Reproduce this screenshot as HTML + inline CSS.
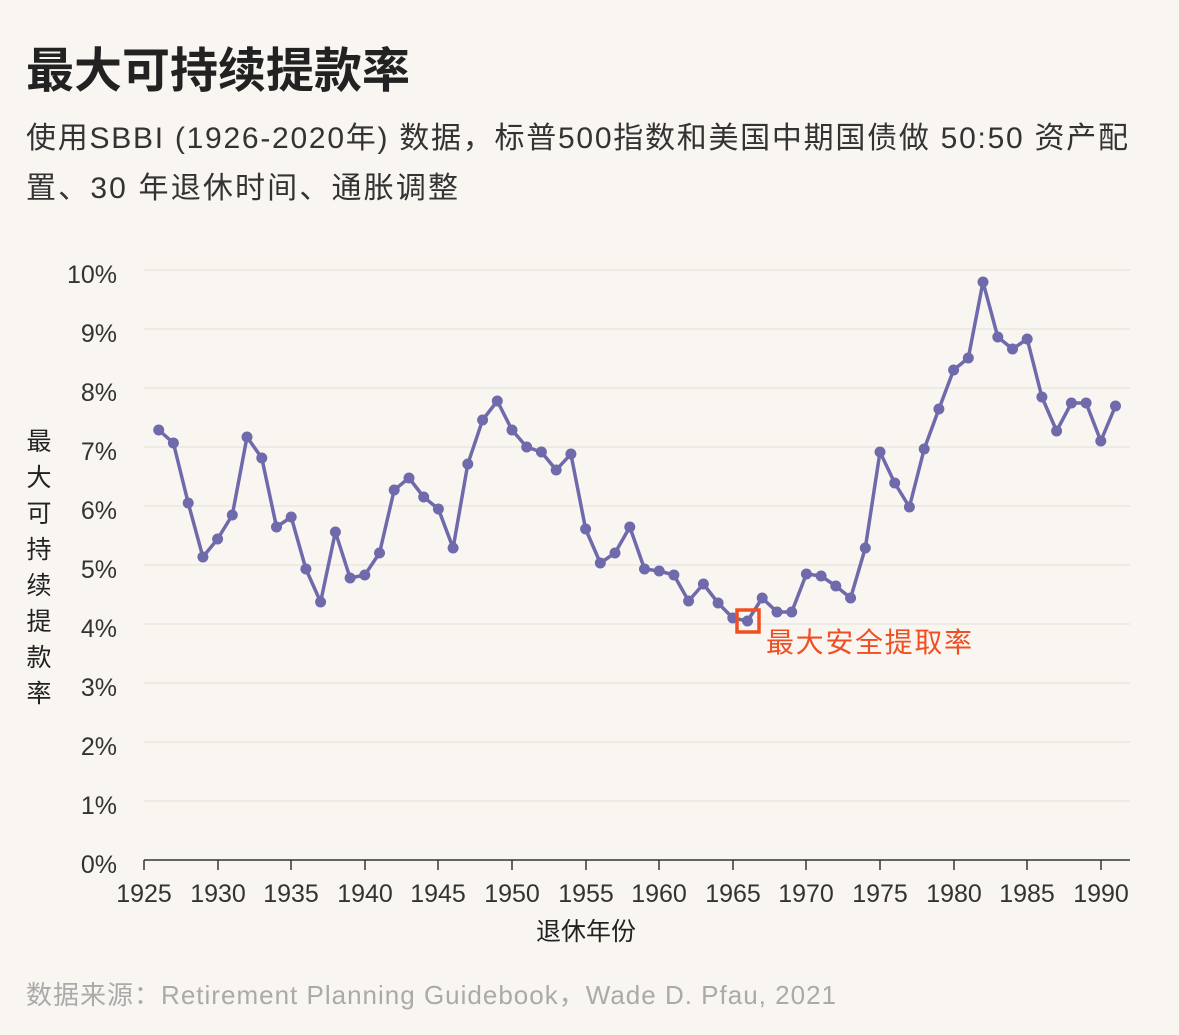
<!DOCTYPE html>
<html><head><meta charset="utf-8"><style>
body{margin:0;background:#f9f6f1;}
svg{display:block}
text{font-family:"Liberation Sans","Noto Sans CJK SC",sans-serif;}
</style></head><body>
<svg width="1179" height="1035" viewBox="0 0 1179 1035" xmlns="http://www.w3.org/2000/svg">
<defs><marker id="dot" markerWidth="12" markerHeight="12" refX="6" refY="6" markerUnits="userSpaceOnUse"><circle cx="6" cy="6" r="5.5" fill="#6e6aab"/></marker></defs>
<rect width="1179" height="1035" fill="#f9f6f1"/>
<text x="26" y="87" font-size="48" font-weight="bold" fill="#222">最大可持续提款率</text>
<text x="26" y="148" font-size="30" fill="#333" textLength="1102" lengthAdjust="spacing">使用SBBI (1926-2020年) 数据，标普500指数和美国中期国债做 50:50 资产配</text>
<text x="26" y="198" font-size="30" fill="#333" textLength="432" lengthAdjust="spacing">置、30 年退休时间、通胀调整</text>
<g stroke="#ebe7e1" stroke-width="1.5">
<line x1="144" x2="1130" y1="270" y2="270"/><line x1="144" x2="1130" y1="329" y2="329"/>
<line x1="144" x2="1130" y1="388" y2="388"/><line x1="144" x2="1130" y1="447" y2="447"/>
<line x1="144" x2="1130" y1="506" y2="506"/><line x1="144" x2="1130" y1="565" y2="565"/>
<line x1="144" x2="1130" y1="624" y2="624"/><line x1="144" x2="1130" y1="683" y2="683"/>
<line x1="144" x2="1130" y1="742" y2="742"/><line x1="144" x2="1130" y1="801" y2="801"/>
</g>
<line x1="144" x2="1130" y1="860" y2="860" stroke="#333" stroke-width="1.5"/>
<g font-size="25" fill="#333" text-anchor="end">
<text x="117" y="283">10%</text><text x="117" y="342">9%</text><text x="117" y="401">8%</text>
<text x="117" y="460">7%</text><text x="117" y="519">6%</text><text x="117" y="578">5%</text>
<text x="117" y="637">4%</text><text x="117" y="696">3%</text><text x="117" y="755">2%</text>
<text x="117" y="814">1%</text><text x="117" y="873">0%</text>
</g>
<g stroke="#333" stroke-width="1.5">
<line x1="144" x2="144" y1="860" y2="870"/><line x1="218" x2="218" y1="860" y2="870"/>
<line x1="291" x2="291" y1="860" y2="870"/><line x1="365" x2="365" y1="860" y2="870"/>
<line x1="438" x2="438" y1="860" y2="870"/><line x1="512" x2="512" y1="860" y2="870"/>
<line x1="586" x2="586" y1="860" y2="870"/><line x1="659" x2="659" y1="860" y2="870"/>
<line x1="733" x2="733" y1="860" y2="870"/><line x1="806" x2="806" y1="860" y2="870"/>
<line x1="880" x2="880" y1="860" y2="870"/><line x1="954" x2="954" y1="860" y2="870"/>
<line x1="1027" x2="1027" y1="860" y2="870"/><line x1="1101" x2="1101" y1="860" y2="870"/>
</g>
<g font-size="25" fill="#333" text-anchor="middle">
<text x="144" y="902">1925</text><text x="218" y="902">1930</text><text x="291" y="902">1935</text>
<text x="365" y="902">1940</text><text x="438" y="902">1945</text><text x="512" y="902">1950</text>
<text x="586" y="902">1955</text><text x="659" y="902">1960</text><text x="733" y="902">1965</text>
<text x="806" y="902">1970</text><text x="880" y="902">1975</text><text x="954" y="902">1980</text>
<text x="1027" y="902">1985</text><text x="1101" y="902">1990</text>
<text x="586" y="940" fill="#222">退休年份</text>
</g>
<g font-size="25" fill="#222" text-anchor="middle">
<text x="39" y="450">最</text><text x="39" y="486">大</text><text x="39" y="522">可</text>
<text x="39" y="558">持</text><text x="39" y="594">续</text><text x="39" y="630">提</text>
<text x="39" y="666">款</text><text x="39" y="702">率</text>
</g>
<polyline fill="none" stroke="#6e6aab" stroke-width="3.5" stroke-linejoin="round" marker-start="url(#dot)" marker-mid="url(#dot)" marker-end="url(#dot)" points="158.7,430 173.4,443 188.2,503 202.9,557 217.6,539 232.3,515 247.0,437 261.8,458 276.5,527 291.2,517 305.9,569 320.6,602 335.4,532 350.1,578 364.8,575 379.5,553 394.2,490 409.0,478 423.7,497 438.4,509 453.1,548 467.8,464 482.6,420 497.3,401 512.0,430 526.7,447 541.4,452 556.2,470 570.9,454 585.6,529 600.3,563 615.0,553 629.8,527 644.5,569 659.2,571 673.9,575 688.6,601 703.4,584 718.1,603 732.8,618 747.5,621 762.2,598 777.0,612 791.7,612 806.4,574 821.1,576 835.8,586 850.6,598 865.3,548 880.0,452 894.7,483 909.4,507 924.2,449 938.9,409 953.6,370 968.3,358 983.0,282 997.8,337 1012.5,349 1027.2,339 1041.9,397 1056.6,431 1071.4,403 1086.1,403 1100.8,441 1115.5,406"/>
<rect x="737" y="610" width="22" height="22" fill="none" stroke="#f04e23" stroke-width="3.5"/>
<text x="766" y="652" font-size="28" fill="#f04e23" textLength="206" lengthAdjust="spacing">最大安全提取率</text>
<text x="26" y="1004" font-size="26" fill="#aaa" textLength="810" lengthAdjust="spacing">数据来源：Retirement Planning Guidebook，Wade D. Pfau, 2021</text>
</svg>
</body></html>
